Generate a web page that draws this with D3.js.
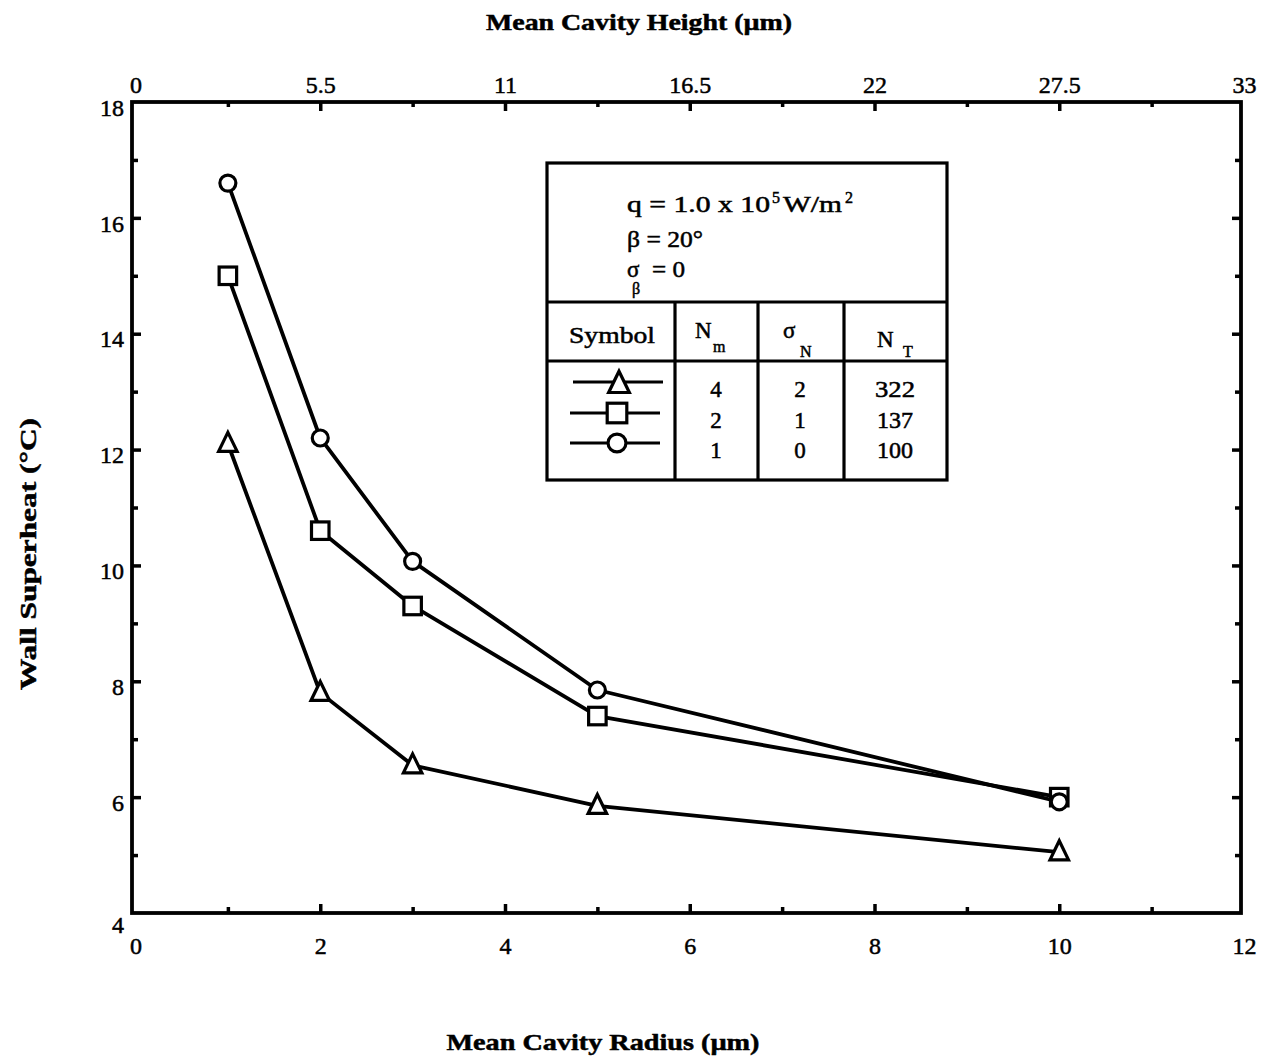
<!DOCTYPE html>
<html>
<head>
<meta charset="utf-8">
<script src="https://cdn.jsdelivr.net/npm/d3@7"></script>
<style>
  html, body { margin: 0; padding: 0; background: #fff; }
  svg { display: block; }
  text { font-family: "Liberation Serif", "DejaVu Serif", serif; fill: #000; stroke: #000; stroke-width: 0.5px; }
</style>
</head>
<body>
<script>
// Mean cavity radius (µm) for each measured point
const radius = [1, 2, 3, 5, 10];

// Wall superheat (°C) for the three nucleation-site distributions
const superheatTriangle = [12.1, 7.8, 6.55, 5.85, 5.05];
const superheatSquare   = [15.0, 10.6, 9.3, 7.4, 6.0];
const superheatCircle   = [16.6, 12.2, 10.07, 7.85, 5.92];

// Table rows: N_m, sigma_N, N_T
const symbolNames = ["triangle", "square", "circle"];
const nm     = ["4", "2", "1"];
const sigmaN = ["2", "1", "0"];
const nT     = ["322", "137", "100"];

// Axis ticks
const bottomTicks = [0, 2, 4, 6, 8, 10, 12];
const topTicks = [0, 5.5, 11, 16.5, 22, 27.5, 33];
const leftTicks = [4, 6, 8, 10, 12, 14, 16, 18];

const W = 1264, H = 1059;
const frame = { left: 132, right: 1241, top: 102, bottom: 913 };

const svg = d3.select("body").append("svg").attr("width", W).attr("height", H);

const x = d3.scaleLinear().domain([0, 12]).range([135.5, 1244]);
const xTop = d3.scaleLinear().domain([0, 33]).range([135.5, 1244]);
const y = d3.scaleLinear().domain([4, 18]).range([frame.bottom, frame.top]);

const INK = "#000";
const TICK_FONT = 24;

// Axes with inward-pointing ticks; minor ticks at the half steps
function styleAxis(g) {
  g.select(".domain").remove();
  g.selectAll(".tick line").attr("stroke", INK).attr("stroke-width", 3.5);
  g.selectAll(".tick text").style("font-size", TICK_FONT + "px").attr("fill", INK);
}

// bottom
const gB = svg.append("g").attr("transform", `translate(0,${frame.bottom})`)
  .call(d3.axisBottom(x).tickValues(bottomTicks).tickFormat(d3.format("d"))
    .tickSizeInner(-9).tickSizeOuter(0).tickPadding(24));
styleAxis(gB);
gB.selectAll(".tick").filter(d => d === 0 || d === 12).select("line").remove();
svg.append("g").attr("transform", `translate(0,${frame.bottom})`)
  .call(d3.axisBottom(x).tickValues([1, 3, 5, 7, 9, 11]).tickFormat("").tickSizeInner(-6).tickSizeOuter(0))
  .call(styleAxis);

// top
const gT = svg.append("g").attr("transform", `translate(0,${frame.top})`)
  .call(d3.axisTop(xTop).tickValues(topTicks).tickFormat(d => String(d))
    .tickSizeInner(-9).tickSizeOuter(0).tickPadding(9));
styleAxis(gT);
gT.selectAll(".tick").filter(d => d === 0 || d === 33).select("line").remove();
svg.append("g").attr("transform", `translate(0,${frame.top})`)
  .call(d3.axisTop(xTop).tickValues([2.75, 8.25, 13.75, 19.25, 24.75, 30.25]).tickFormat("").tickSizeInner(-5).tickSizeOuter(0))
  .call(styleAxis);

// left
const gL = svg.append("g").attr("transform", `translate(${frame.left},0)`)
  .call(d3.axisLeft(y).tickValues(leftTicks).tickFormat(d3.format("d"))
    .tickSizeInner(-9).tickSizeOuter(0).tickPadding(8));
styleAxis(gL);
gL.selectAll(".tick").filter(d => d === 4 || d === 18).select("line").remove();
gL.selectAll(".tick text").attr("dy", "0.55em");
gL.selectAll(".tick").filter(d => d === 4).select("text").attr("dy", "0.8em");
svg.append("g").attr("transform", `translate(${frame.left},0)`)
  .call(d3.axisLeft(y).tickValues([5, 7, 9, 11, 13, 15, 17]).tickFormat("").tickSizeInner(-6).tickSizeOuter(0))
  .call(styleAxis);

// right
const gR = svg.append("g").attr("transform", `translate(${frame.right},0)`)
  .call(d3.axisRight(y).tickValues([6, 8, 10, 12, 14, 16]).tickFormat("").tickSizeInner(-9).tickSizeOuter(0));
styleAxis(gR);
svg.append("g").attr("transform", `translate(${frame.right},0)`)
  .call(d3.axisRight(y).tickValues([5, 7, 9, 11, 13, 15, 17]).tickFormat("").tickSizeInner(-6).tickSizeOuter(0))
  .call(styleAxis);

// frame
svg.append("rect")
  .attr("x", frame.left).attr("y", frame.top)
  .attr("width", frame.right - frame.left).attr("height", frame.bottom - frame.top)
  .attr("fill", "none").attr("stroke", INK).attr("stroke-width", 3.8);

// axis titles (wide bold face: glyphs stretched to the set width)
function title(tx, ty, len, str, rotate) {
  svg.append("text")
    .attr("transform", `translate(${tx},${ty})` + (rotate ? " rotate(-90)" : ""))
    .attr("text-anchor", "middle")
    .attr("textLength", len).attr("lengthAdjust", "spacingAndGlyphs")
    .style("font-size", "23px").style("font-weight", "bold")
    .text(str);
}
title(639, 30, 306, "Mean Cavity Height (µm)", false);
title(603, 1050, 313, "Mean Cavity Radius (µm)", false);
title(36, 554, 272, "Wall Superheat (°C)", true);

// marker drawing
function drawMarker(g, kind, cx, cy, scale = 1) {
  const sw = 3.2;
  if (kind === "circle") {
    g.append("circle").attr("cx", cx).attr("cy", cy).attr("r", 8 * scale)
      .attr("fill", "#fff").attr("stroke", INK).attr("stroke-width", sw);
  } else if (kind === "square") {
    const s = 17.5 * scale;
    g.append("rect").attr("x", cx - s / 2).attr("y", cy - s / 2).attr("width", s).attr("height", s)
      .attr("fill", "#fff").attr("stroke", INK).attr("stroke-width", sw);
  } else {
    const h = 19 * scale, b = 18.5 * scale;
    g.append("path")
      .attr("d", `M${cx},${cy - h * 0.6} L${cx + b / 2},${cy + h * 0.4} L${cx - b / 2},${cy + h * 0.4} Z`)
      .attr("fill", "#fff").attr("stroke", INK).attr("stroke-width", sw).attr("stroke-linejoin", "miter");
  }
}

const series = [
  { kind: "triangle", values: superheatTriangle },
  { kind: "square", values: superheatSquare },
  { kind: "circle", values: superheatCircle }
];

const line = d3.line().x(d => x(d[0])).y(d => y(d[1]));
const linesG = svg.append("g");
const marksG = svg.append("g");
series.forEach(s => {
  const pts = radius.map((r, i) => [r, s.values[i]]);
  linesG.append("path").attr("d", line(pts)).attr("fill", "none")
    .attr("stroke", INK).attr("stroke-width", 3.8).attr("stroke-linejoin", "round");
  pts.forEach(p => drawMarker(marksG, s.kind, x(p[0]), y(p[1])));
});

// parameter / legend table
const box = { left: 547, right: 947, top: 163, bottom: 480, mid: 302, head: 361 };
const cols = [box.left, 675, 758, 844, box.right];
const tg = svg.append("g");
tg.append("rect").attr("x", box.left).attr("y", box.top)
  .attr("width", box.right - box.left).attr("height", box.bottom - box.top)
  .attr("fill", "#fff").attr("stroke", INK).attr("stroke-width", 3.2);
[box.mid, box.head].forEach(yy => tg.append("line")
  .attr("x1", box.left).attr("x2", box.right).attr("y1", yy).attr("y2", yy)
  .attr("stroke", INK).attr("stroke-width", 3.2));
cols.slice(1, 4).forEach(xx => tg.append("line")
  .attr("x1", xx).attr("x2", xx).attr("y1", box.mid).attr("y2", box.bottom)
  .attr("stroke", INK).attr("stroke-width", 3.2));

const fs = "23px", sub = "16px";
function txt(tx, ty, str, size, len, anchor) {
  const t = tg.append("text").attr("x", tx).attr("y", ty).style("font-size", size).text(str);
  if (len) t.attr("textLength", len).attr("lengthAdjust", "spacingAndGlyphs");
  if (anchor) t.attr("text-anchor", anchor);
  return t;
}
// heat flux, contact angle, angle spread
txt(627, 212, "q = 1.0 x 10", fs, 143);
txt(772, 203, "5", sub);
txt(783, 212, "W/m", fs, 59);
txt(845, 203, "2", sub);
txt(627, 247, "β = 20°", fs, 76);
txt(627, 277, "σ", fs);
txt(652, 277, "= 0", fs, 33);
txt(632, 294, "β", sub);

// header row
txt(569, 343, "Symbol", fs, 86);
txt(695, 338, "N", fs);
txt(713, 352, "m", sub);
txt(783, 338, "σ", fs);
txt(800, 357, "N", sub);
txt(877, 347, "N", fs);
txt(903, 357, "T", sub);

// data rows
const rowY = [383, 413, 443];
const rowBase = [397, 428, 458];
symbolNames.forEach((k, i) => {
  const cy = rowY[i];
  tg.append("line").attr("x1", k === "triangle" ? 573 : 570).attr("x2", k === "triangle" ? 663 : 660)
    .attr("y1", k === "triangle" ? cy - 1 : cy).attr("y2", k === "triangle" ? cy - 1 : cy)
    .attr("stroke", INK).attr("stroke-width", 3.2);
  drawMarker(tg, k, k === "triangle" ? 619 : 617, k === "triangle" ? cy + 1 : cy, 1.12);
  txt(716, rowBase[i], nm[i], fs, null, "middle");
  txt(800, rowBase[i], sigmaN[i], fs, null, "middle");
  txt(895, rowBase[i], nT[i], fs, nT[i] === "322" ? 40 : 36, "middle");
});
</script>
</body>
</html>
